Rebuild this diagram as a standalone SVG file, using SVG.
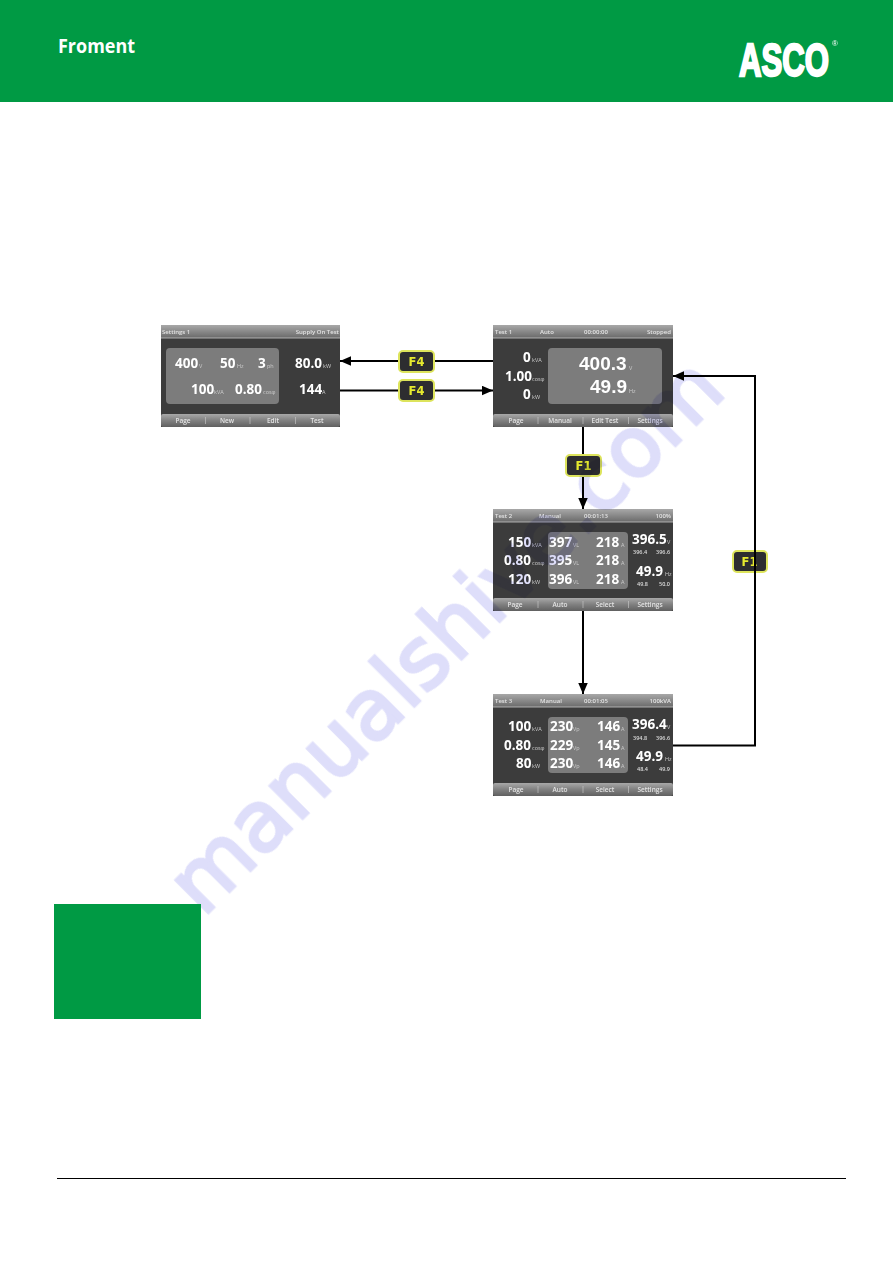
<svg xmlns="http://www.w3.org/2000/svg" width="893" height="1263" viewBox="0 0 893 1263">
<style>
text{font-family:"Open Sans","Liberation Sans",sans-serif;fill:#fff}
.n{font-size:13.500px;font-weight:700}
.b{font-family:"Liberation Sans",sans-serif;font-size:19px;font-weight:700}
.u{font-size:5.500px;fill:#ccc}
.s{font-size:5.500px;fill:#ddd;font-weight:600}
.h{font-size:6px;fill:#e4e4e4;font-weight:600}
.f{font-size:6.500px;fill:#e4e4e4;text-anchor:middle;font-weight:600}
.c{text-anchor:middle}
.e{text-anchor:end}
.body{fill:#3c3c3c}
.head{fill:url(#gh)}
.foot{fill:url(#gf)}
.panel{fill:#7c7c7c}
.sep{stroke:#ccc;stroke-width:.6}
.hl{stroke:#c8c8c8;stroke-width:.8}
.key rect{fill:#2d2d30;stroke:#dde45c;stroke-width:2}
.key text{fill:#e6ea2e;font-family:"DejaVu Sans",sans-serif;font-size:11.500px;font-weight:700;text-anchor:middle}
.line{fill:none;stroke:#000;stroke-width:2}
.wm{font-family:"DejaVu Sans",sans-serif;font-size:84px;fill:#dedefa;stroke:#dedefa;stroke-width:3;mix-blend-mode:multiply}
</style>
<defs>
<linearGradient id="gh" x1="0" y1="0" x2="0" y2="1"><stop offset="0" stop-color="#a8a8a8"/><stop offset="1" stop-color="#6a6a6a"/></linearGradient>
<linearGradient id="gf" x1="0" y1="0" x2="0" y2="1"><stop offset="0" stop-color="#a8a8a8"/><stop offset=".5" stop-color="#808080"/><stop offset="1" stop-color="#606060"/></linearGradient>
<marker id="arr" markerUnits="userSpaceOnUse" markerWidth="12" markerHeight="10" refX="11" refY="5" orient="auto"><path d="M0 .25L11 5L0 9.750Z" fill="#000"/></marker>
</defs>
<g id="header">
<rect width="893" height="102" fill="#009a44"/>
<text x="58" y="53" font-size="20" font-weight="700" textLength="77" lengthAdjust="spacingAndGlyphs" style="font-family:'Open Sans',sans-serif">Froment</text>
<text transform="translate(739 75.500) scale(.663 1)" font-size="47" font-weight="700" stroke="#fff" stroke-width="2.400" style="font-family:'Liberation Sans',sans-serif">ASCO</text>
<text x="832" y="46" font-size="8" style="font-family:'Liberation Sans',sans-serif">®</text>
</g>
<g id="connectors">
<path class="line" d="M493 361H340" marker-end="url(#arr)"/>
<path class="line" d="M340 390.500H493" marker-end="url(#arr)"/>
<path class="line" d="M583 427V509" marker-end="url(#arr)"/>
<path class="line" d="M583 611V694" marker-end="url(#arr)"/>
</g>
<g id="screen-settings">
<rect class="body" x="161" y="325" width="179" height="102"/>
<rect class="head" x="161" y="325" width="179" height="13"/>
<path class="hl" d="M161 338H340"/>
<rect class="foot" x="161" y="414" width="179" height="13" rx="2"/>
<rect class="panel" x="166" y="348" width="113" height="56" rx="4"/>
<text class="h" x="162" y="334">Settings 1</text><text class="h e" x="339" y="334">Supply On Test</text>
<text class="n" x="175" y="368">400</text><text class="u" x="199" y="368">V</text>
<text class="n" x="220" y="368">50</text><text class="u" x="237" y="368">Hz</text>
<text class="n" x="258" y="368">3</text><text class="u" x="267" y="368">ph</text>
<text class="n" x="295" y="368">80.0</text><text class="u" x="323" y="368">kW</text>
<text class="n" x="191" y="394">100</text><text class="u" x="214" y="394">kVA</text>
<text class="n" x="235" y="394">0.80</text><text class="u" x="263" y="394">cosφ</text>
<text class="n" x="299" y="394">144</text><text class="u" x="322" y="394">A</text>
<path class="sep" d="M205.500 417V424M250 417V424M295.500 417V424"/>
<text class="f" x="183" y="423">Page</text><text class="f" x="227" y="423">New</text><text class="f" x="273" y="423">Edit</text><text class="f" x="317" y="423">Test</text>
</g>
<g id="screen-test1">
<rect class="body" x="493" y="325" width="180" height="102"/>
<rect class="head" x="493" y="325" width="180" height="13"/>
<path class="hl" d="M493 338H673"/>
<rect class="foot" x="493" y="414" width="180" height="13" rx="2"/>
<rect class="panel" x="548" y="348" width="114" height="56" rx="4"/>
<text class="h" x="495" y="334">Test 1</text><text class="h c" x="547" y="334">Auto</text><text class="h c" x="596" y="334">00:00:00</text><text class="h e" x="671" y="334">Stopped</text>
<text class="n" x="523" y="362">0</text><text class="u" x="532" y="362">kVA</text>
<text class="n" x="505" y="381">1.00</text><text class="u" x="532" y="381">cosφ</text>
<text class="n" x="523" y="399">0</text><text class="u" x="532" y="399">kW</text>
<text class="b" x="579" y="370">400.3</text><text class="u" x="629" y="370">V</text>
<text class="b" x="590" y="393">49.9</text><text class="u" x="629" y="393">Hz</text>
<path class="sep" d="M538 417V424M583 417V424M628.500 417V424"/>
<text class="f" x="516" y="423">Page</text><text class="f" x="560" y="423">Manual</text><text class="f" x="605" y="423">Edit Test</text><text class="f" x="650" y="423">Settings</text>
</g>
<g id="screen-test2">
<rect class="body" x="493" y="509" width="180" height="102"/>
<rect class="head" x="493" y="509" width="180" height="13"/>
<path class="hl" d="M493 522H673"/>
<rect class="foot" x="493" y="598" width="180" height="13" rx="2"/>
<rect class="panel" x="548" y="532" width="80" height="57" rx="4"/>
<text class="h" x="495" y="518">Test 2</text><text class="h c" x="550" y="518">Manual</text><text class="h c" x="596" y="518">00:01:13</text><text class="h e" x="671" y="518">100%</text>
<text class="n" x="508" y="547">150</text><text class="u" x="532" y="547">kVA</text>
<text class="n" x="504" y="565">0.80</text><text class="u" x="532" y="565">cosφ</text>
<text class="n" x="508" y="584">120</text><text class="u" x="532" y="584">kW</text>
<text class="n" x="549" y="547">397</text><text class="u" x="573" y="547">VL</text>
<text class="n" x="549" y="565">395</text><text class="u" x="573" y="565">VL</text>
<text class="n" x="549" y="584">396</text><text class="u" x="573" y="584">VL</text>
<text class="n" x="596" y="547">218</text><text class="u" x="621" y="547">A</text>
<text class="n" x="596" y="565">218</text><text class="u" x="621" y="565">A</text>
<text class="n" x="596" y="584">218</text><text class="u" x="621" y="584">A</text>
<text class="n" x="632" y="544">396.5</text><text class="u" x="667" y="544">V</text>
<text class="s" x="633" y="554">396.4</text><text class="s" x="656" y="554">396.6</text>
<text class="n" x="636" y="576">49.9</text><text class="u" x="665" y="576">Hz</text>
<text class="s" x="637" y="586">49.8</text><text class="s" x="659" y="586">50.0</text>
<path class="sep" d="M538 601V608M583 601V608M628.500 601V608"/>
<text class="f" x="515" y="607">Page</text><text class="f" x="560" y="607">Auto</text><text class="f" x="605" y="607">Select</text><text class="f" x="650" y="607">Settings</text>
</g>
<g id="screen-test3">
<rect class="body" x="493" y="694" width="180" height="102"/>
<rect class="head" x="493" y="694" width="180" height="13"/>
<path class="hl" d="M493 707H673"/>
<rect class="foot" x="493" y="783" width="180" height="13" rx="2"/>
<rect class="panel" x="548" y="717" width="80" height="56" rx="4"/>
<text class="h" x="495" y="703">Test 3</text><text class="h c" x="551" y="703">Manual</text><text class="h c" x="596" y="703">00:01:05</text><text class="h e" x="671" y="703">100kVA</text>
<text class="n" x="508" y="731">100</text><text class="u" x="532" y="731">kVA</text>
<text class="n" x="504" y="750">0.80</text><text class="u" x="532" y="750">cosφ</text>
<text class="n" x="516" y="768">80</text><text class="u" x="532" y="768">kW</text>
<text class="n" x="550" y="731">230</text><text class="u" x="573" y="731">Vp</text>
<text class="n" x="550" y="750">229</text><text class="u" x="573" y="750">Vp</text>
<text class="n" x="550" y="768">230</text><text class="u" x="573" y="768">Vp</text>
<text class="n" x="597" y="731">146</text><text class="u" x="621" y="731">A</text>
<text class="n" x="597" y="750">145</text><text class="u" x="621" y="750">A</text>
<text class="n" x="597" y="768">146</text><text class="u" x="621" y="768">A</text>
<text class="n" x="632" y="729">396.4</text><text class="u" x="667" y="729">V</text>
<text class="s" x="633" y="740">394.8</text><text class="s" x="656" y="740">396.6</text>
<text class="n" x="636" y="761">49.9</text><text class="u" x="665" y="761">Hz</text>
<text class="s" x="637" y="771">48.4</text><text class="s" x="659" y="771">49.9</text>
<path class="sep" d="M538 786V793M583 786V793M628.500 786V793"/>
<text class="f" x="516" y="792">Page</text><text class="f" x="560" y="792">Auto</text><text class="f" x="605" y="792">Select</text><text class="f" x="650" y="792">Settings</text>
</g>
<g id="key-f4-top" class="key"><rect x="399" y="351" width="35" height="21" rx="4"/><text x="416.500" y="365.500">F4</text></g>
<g id="key-f4-bottom" class="key"><rect x="399" y="380" width="35" height="21" rx="4"/><text x="416.500" y="394.500">F4</text></g>
<g id="key-f1-down" class="key"><rect x="566" y="455" width="35" height="21" rx="4"/><text x="583.500" y="470">F1</text></g>
<g id="key-f1-return" class="key"><rect x="733" y="551" width="34" height="21" rx="4"/><text x="749.500" y="566">F1</text></g>
<g id="connector-return"><path class="line" d="M673 745.500H755V376H673" marker-end="url(#arr)"/></g>
<g id="watermark"><text class="wm" transform="translate(203 918) rotate(-45)">manualshive.com</text></g>
<g id="green-block"><rect x="54" y="904" width="147" height="115" fill="#009a44"/></g>
<g id="footer-rule"><path d="M57 1178.500H846" stroke="#000" stroke-width="1"/></g>
</svg>
